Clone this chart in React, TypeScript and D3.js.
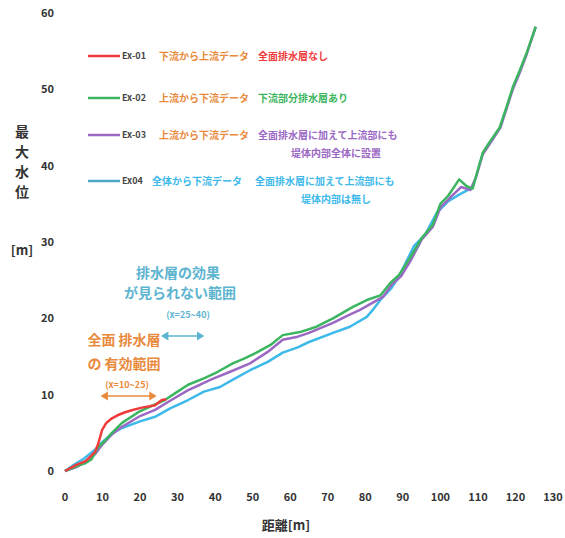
import React from 'react';
import * as d3 from 'd3';

// chart data (x: 距離, y: 最大水位)
const xTicks = [0, 10, 20, 30, 40, 50, 60, 70, 80, 90, 100, 110, 120, 130];
const yTicks = [0, 10, 20, 30, 40, 50, 60];

const redSeries: [number, number][] = [
  [0, 0], [3, 0.8], [5.5, 1.3], [8, 2.5], [8.8, 3.5], [9.9, 5.4], [11, 6.3], [12.5, 6.9],
  [14, 7.3], [16, 7.7], [18, 8], [20.5, 8.3], [24, 8.6], [25.8, 9.3], [27, 9.4],
];

const greenSeries: [number, number][] = [
  [0, 0], [3, 0.6], [5.3, 1.0], [7, 1.5], [8.8, 3.1], [10.5, 3.9], [12.5, 5], [15.2, 6.3],
  [19.5, 7.7], [23, 8.5], [26.6, 9.3], [30, 10.4], [32.8, 11.3], [37.3, 12.2], [40.7, 13],
  [44.7, 14.1], [48, 14.8], [51, 15.5], [55, 16.6], [58, 17.8], [62.6, 18.2], [67, 18.9],
  [71.4, 20], [76.7, 21.5], [80.4, 22.4], [84, 23], [86.6, 24.6], [89, 25.7], [92, 28],
  [95, 30.5], [98, 32.3], [100, 35], [102, 36], [105, 38.2], [107, 37.3], [108.6, 37],
  [110, 39.5], [111.3, 41.7], [113, 43], [115.8, 45], [117.5, 47.5], [119.3, 50.3],
  [121, 52.3], [123, 54.8], [125.4, 58.2],
];

const purpleSeries: [number, number][] = [
  [0, 0], [3, 0.5], [5.3, 1.2], [8, 2.2], [10, 3.5], [12.5, 4.8], [15.2, 5.8], [20, 7.2],
  [24, 8], [28, 9.2], [32.8, 10.6], [36, 11.3], [39, 12], [44, 13], [49.3, 14.1], [54, 15.6],
  [58, 17.2], [62, 17.6], [65, 18.1], [71.4, 19.4], [75, 20.3], [78.6, 21.1], [84.7, 22.8],
  [87, 24.4], [89.5, 25.5], [92, 27.5], [95, 30.3], [98, 32], [100, 34.5], [103, 36],
  [105.5, 37.2], [108, 36.8], [109.5, 38.5], [111.3, 41.5], [114, 43.5], [116, 45],
  [119.3, 50], [121, 52], [123, 54.6], [125.4, 58.2],
];

const blueSeries: [number, number][] = [
  [0, 0], [2, 0.7], [5, 1.6], [8, 2.8], [10, 3.8], [12.5, 4.9], [15, 5.6], [20, 6.5],
  [24, 7.1], [28, 8.2], [32.8, 9.3], [37, 10.4], [41.3, 11], [44.5, 11.9], [49.3, 13.2],
  [54, 14.3], [58, 15.5], [62, 16.2], [65, 16.9], [71.4, 18.1], [75.9, 18.9], [80.4, 20.2],
  [82, 21.1], [84, 22.4], [87, 24], [89, 25.5], [91, 27.5], [93, 29.5], [96, 31],
  [99, 33.8], [102, 35.3], [105, 36.2], [108, 37],
];

const seriesNames = ['Ex-01', 'Ex-02', 'Ex-03', 'Ex04'];
const seriesColors = ['#ef3b3b', '#3cb560', '#9b68c4', '#3db9ea'];
const legendLead = ['下流から上流データ', '上流から下流データ', '上流から下流データ', '全体から下流データ'];
const legendDesc = [
  ['全面排水層なし'],
  ['下流部分排水層あり'],
  ['全面排水層に加えて上流部にも', '堤体内部全体に設置'],
  ['全面排水層に加えて上流部にも', '堤体内部は無し'],
];

const W = 565;
const H = 538;
const FONT = '"Noto Sans CJK JP", "Noto Sans", sans-serif';
const ORANGE = '#e98a3c';
const TEAL = '#5db4cf';

export default function App() {
  const x = d3.scaleLinear().domain([0, 130]).range([65, 553]);
  const y = d3.scaleLinear().domain([0, 60]).range([471, 13]);

  const line = d3.line<[number, number]>()
    .x(d => x(d[0]))
    .y(d => y(d[1]));

  // draw order: blue underneath, red on top
  const drawn = [
    { data: blueSeries, color: seriesColors[3] },
    { data: purpleSeries, color: seriesColors[2] },
    { data: greenSeries, color: seriesColors[1] },
    { data: redSeries, color: seriesColors[0] },
  ];

  const legendY = [56, 98, 135, 181];

  return (
    <svg width={W} height={H} style={{ position: 'absolute', left: 0, top: 0, background: '#fff' }}
      fontFamily={FONT}>
      {/* y tick labels */}
      {yTicks.map(t => (
        <text key={'y' + t} x={54} y={y(t)} dy="0.35em" textAnchor="end"
          fontSize={11} fontWeight="bold" fill="#333">{t}</text>
      ))}
      {/* x tick labels */}
      {xTicks.map(t => (
        <text key={'x' + t} x={x(t)} y={497} dy="0.35em" textAnchor="middle"
          fontSize={11} fontWeight="bold" fill="#333">{t}</text>
      ))}

      {/* axis titles */}
      {'最大水位'.split('').map((c, i) => (
        <text key={'yl' + i} x={22} y={132 + i * 20} dy="0.35em" textAnchor="middle"
          fontSize={14} fontWeight="bold" fill="#333">{c}</text>
      ))}
      <text x={22} y={250} dy="0.35em" textAnchor="middle" fontSize={13} fontWeight="bold" fill="#333">[m]</text>
      <text x={286} y={525} dy="0.35em" textAnchor="middle" fontSize={13} fontWeight="bold" fill="#333">距離[m]</text>

      {/* series */}
      {drawn.map((s, i) => (
        <path key={'s' + i} d={line(s.data) || ''} fill="none" stroke={s.color}
          strokeWidth={2.5} strokeLinejoin="round" />
      ))}

      {/* legend */}
      {seriesNames.map((name, i) => {
        const ly = legendY[i];
        const descColor = seriesColors[i];
        const descX = i === 3 ? 255 : 258;
        return (
          <g key={'lg' + i}>
            <line x1={88} x2={120} y1={ly} y2={ly} stroke={i === 3 ? '#4aa8c8' : descColor} strokeWidth={2.5} />
            <text x={122} y={ly} dy="0.35em" fontSize={9} fontWeight="bold" fill="#444">{name}</text>
            <text x={i === 3 ? 152 : 159} y={ly} dy="0.35em" fontSize={10} fontWeight="bold"
              fill={i === 3 ? '#3db9ea' : ORANGE}>{legendLead[i]}</text>
            {legendDesc[i].map((t, k) => (
              <text key={k} x={k === 0 ? descX : 336} y={ly + k * 18} dy="0.35em"
                textAnchor={k === 0 ? 'start' : 'middle'}
                fontSize={10} fontWeight="bold" fill={descColor}>{t}</text>
            ))}
          </g>
        );
      })}

      {/* annotation: 排水層の効果が見られない範囲 */}
      <text x={178} y={273} dy="0.35em" textAnchor="middle" fontSize={14} fontWeight="bold" fill={TEAL}>排水層の効果</text>
      <text x={180} y={293} dy="0.35em" textAnchor="middle" fontSize={14} fontWeight="bold" fill={TEAL}>が見られない範囲</text>
      <text x={188} y={315} dy="0.35em" textAnchor="middle" fontSize={9} fontWeight="bold" fill={TEAL}>(x=25~40)</text>
      <g stroke={TEAL} fill={TEAL} strokeWidth={1.6}>
        <line x1={x(26)} x2={x(36.7)} y1={336} y2={336} />
        <path d={`M${x(26)},336 l5,-3 v6 z`} />
        <path d={`M${x(36.7)},336 l-5,-3 v6 z`} />
      </g>

      {/* annotation: 全面排水層の有効範囲 */}
      <text x={124} y={340} dy="0.35em" textAnchor="middle" fontSize={14} fontWeight="bold" fill={ORANGE}>全面 排水層</text>
      <text x={124} y={364} dy="0.35em" textAnchor="middle" fontSize={14} fontWeight="bold" fill={ORANGE}>の 有効範囲</text>
      <text x={127} y={385} dy="0.35em" textAnchor="middle" fontSize={9} fontWeight="bold" fill={ORANGE}>(x=10~25)</text>
      <g stroke={ORANGE} fill={ORANGE} strokeWidth={1.6}>
        <line x1={x(9.9)} x2={x(24)} y1={396} y2={396} />
        <path d={`M${x(9.9)},396 l5,-3 v6 z`} />
        <path d={`M${x(24)},396 l-5,-3 v6 z`} />
      </g>
    </svg>
  );
}
